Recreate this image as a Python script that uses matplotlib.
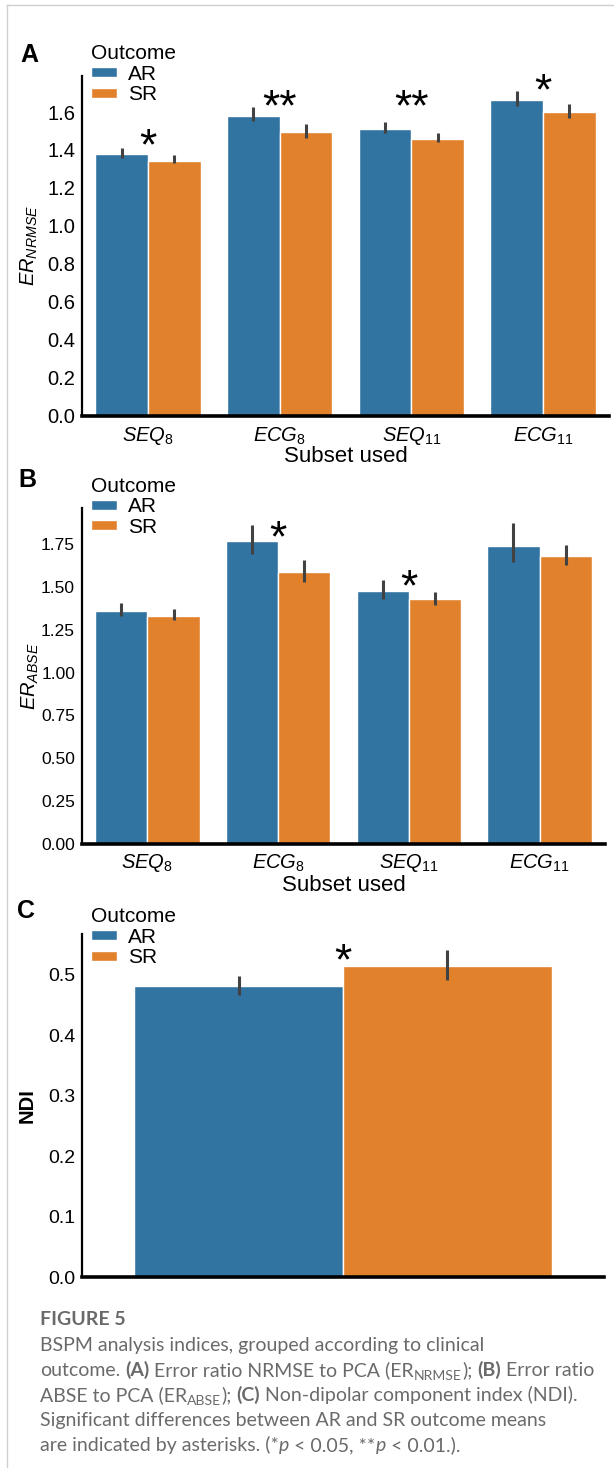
import matplotlib
matplotlib.use('Agg')
import matplotlib.pyplot as plt
import matplotlib.transforms as mtransforms
from matplotlib.lines import Line2D
import numpy as np

plt.rcParams['font.family'] = ['Liberation Sans', 'DejaVu Sans']
plt.rcParams['mathtext.fontset'] = 'custom'
plt.rcParams['mathtext.rm'] = 'Liberation Sans'
plt.rcParams['mathtext.it'] = 'Liberation Sans:italic'
plt.rcParams['mathtext.bf'] = 'Liberation Sans:bold'

# ---------------- data ----------------
subsets = ['$SEQ_{8}$', '$ECG_{8}$', '$SEQ_{11}$', '$ECG_{11}$']
outcomes = ['AR', 'SR']

# Panel A: ER_NRMSE
a_ar = [1.379, 1.580, 1.509, 1.661]
a_sr = [1.341, 1.493, 1.458, 1.601]
a_ar_lo = [1.360, 1.551, 1.490, 1.630]
a_ar_hi = [1.408, 1.629, 1.547, 1.710]
a_sr_lo = [1.329, 1.463, 1.442, 1.571]
a_sr_hi = [1.371, 1.538, 1.490, 1.645]
a_stars = ['*', '**', '**', '*']
a_star_y = [1.484, 1.687, 1.687, 1.771]

# Panel B: ER_ABSE
b_ar = [1.358, 1.770, 1.476, 1.737]
b_sr = [1.331, 1.586, 1.429, 1.679]
b_ar_lo = [1.331, 1.692, 1.427, 1.644]
b_ar_hi = [1.406, 1.863, 1.538, 1.872]
b_sr_lo = [1.306, 1.528, 1.395, 1.629]
b_sr_hi = [1.373, 1.658, 1.472, 1.743]
b_stars = ['', '*', '*', '']
b_star_y = [0, 1.855, 1.565, 0]

# Panel C: NDI
c_vals = [0.481, 0.514]
c_lo = [0.466, 0.491]
c_hi = [0.497, 0.540]
c_star = '*'
c_star_y = 0.542

a_yticks = [0.0, 0.2, 0.4, 0.6, 0.8, 1.0, 1.2, 1.4, 1.6]
b_yticks = [0.0, 0.25, 0.5, 0.75, 1.0, 1.25, 1.5, 1.75]
c_yticks = [0.0, 0.1, 0.2, 0.3, 0.4, 0.5]

# ---------------- style ----------------
BLUE = '#3274a1'
ORANGE = '#e1812c'
ERRC = '#424242'

W, H = 614, 1468
fig = plt.figure(figsize=(W / 100, H / 100), dpi=100)


def px_axes(left, top, right, bottom):
    return fig.add_axes([left / W, 1 - bottom / H, (right - left) / W, (bottom - top) / H])


def style_axes(ax, tick_fs):
    for s in ['top', 'right']:
        ax.spines[s].set_visible(False)
    ax.spines['left'].set_linewidth(1.6)
    ax.spines['bottom'].set_linewidth(2.6)
    ax.spines['left'].set_color('black')
    ax.spines['bottom'].set_color('black')
    ax.tick_params(axis='both', length=0, labelsize=tick_fs)
    ax.tick_params(axis='y', pad=5)
    ax.tick_params(axis='x', pad=7)


def stars(ax, xs, ys, labels, fs=32):
    tr = mtransforms.offset_copy(ax.transData, fig=fig, y=-0.56 * fs, units='points')
    for x, y, s in zip(xs, ys, labels):
        if s:
            ax.text(x, y, s, transform=tr, ha='center', va='baseline', fontsize=fs,
                    color='black', clip_on=False)


LEG_FS = 15
LEG_BP = 0.38


def legend(ax, top_px):
    pad = LEG_BP * LEG_FS * 100 / 72
    ax.legend(title='Outcome', loc='upper left',
              bbox_to_anchor=((90.5 - pad) / W, 1 - (top_px - pad) / H),
              bbox_transform=fig.transFigure,
              frameon=False, borderpad=LEG_BP, borderaxespad=0, fontsize=LEG_FS,
              title_fontsize=LEG_FS, alignment='left', handlelength=1.25,
              handleheight=0.34, handletextpad=0.55, labelspacing=0.08)


def grouped(ax, ar, sr, ar_lo, ar_hi, sr_lo, sr_hi):
    x = np.arange(len(ar))
    ax.bar(x - 0.2, ar, 0.4, color=BLUE, edgecolor='white', linewidth=1, label=outcomes[0])
    ax.bar(x + 0.2, sr, 0.4, color=ORANGE, edgecolor='white', linewidth=1, label=outcomes[1])
    ax.vlines(x - 0.2, ar_lo, ar_hi, color=ERRC, lw=2.2, zorder=3)
    ax.vlines(x + 0.2, sr_lo, sr_hi, color=ERRC, lw=2.2, zorder=3)
    return x


# ---------------- Panel A ----------------
axA = px_axes(82, 76, 609, 415.5)
x = grouped(axA, a_ar, a_sr, a_ar_lo, a_ar_hi, a_sr_lo, a_sr_hi)
axA.set_xlim(-0.5, len(subsets) - 0.5)
axA.set_ylim(0, 1.79)
axA.set_yticks(a_yticks, [f'{v:.1f}' for v in a_yticks])
axA.set_xticks(x, subsets)
style_axes(axA, 14.5)
axA.set_ylabel('$ER_{NRMSE}$', fontsize=14.5)
axA.yaxis.label.set_va('center')
axA.yaxis.set_label_coords(-0.1006, 0.5)
axA.set_xlabel('Subset used', fontsize=16)
axA.xaxis.label.set_va('center')
axA.xaxis.set_label_coords(0.5, -0.122)
stars(axA, x, a_star_y, a_stars)
legend(axA, 44)

# ---------------- Panel B ----------------
axB = px_axes(82, 508, 605, 844)
x = grouped(axB, b_ar, b_sr, b_ar_lo, b_ar_hi, b_sr_lo, b_sr_hi)
axB.set_xlim(-0.5, len(subsets) - 0.5)
axB.set_ylim(0, 1.96)
axB.set_yticks(b_yticks, [f'{v:.2f}' for v in b_yticks])
axB.set_xticks(x, subsets)
style_axes(axB, 12.5)
axB.tick_params(axis='x', labelsize=14.5, pad=6)
axB.set_ylabel('$ER_{ABSE}$', fontsize=14.5)
axB.yaxis.label.set_va('center')
axB.yaxis.set_label_coords(-0.0996, 0.5)
axB.set_xlabel('Subset used', fontsize=16)
axB.xaxis.label.set_va('center')
axB.xaxis.set_label_coords(0.5, -0.124)
stars(axB, x, b_star_y, b_stars)
legend(axB, 476.5)

# ---------------- Panel C ----------------
axC = px_axes(82, 934, 604, 1277)
axC.bar([-0.2], [c_vals[0]], 0.4, color=BLUE, edgecolor='white', linewidth=1, label=outcomes[0])
axC.bar([0.2], [c_vals[1]], 0.4, color=ORANGE, edgecolor='white', linewidth=1, label=outcomes[1])
axC.vlines([-0.2, 0.2], c_lo, c_hi, color=ERRC, lw=2.2, zorder=3)
axC.set_xlim(-0.5, 0.5)
axC.set_ylim(0, 0.567)
axC.set_yticks(c_yticks, [f'{v:.1f}' for v in c_yticks])
axC.set_xticks([])
style_axes(axC, 14)
axC.set_ylabel('NDI', fontsize=14.5, fontweight='bold')
axC.yaxis.label.set_va('center')
axC.yaxis.set_label_coords(-0.105, 0.5)
stars(axC, [0.0], [c_star_y], [c_star])
legend(axC, 907)

# ---------------- panel letters ----------------
for lab, lx, ly in [('A', 20, 62), ('B', 18, 487), ('C', 17, 918)]:
    fig.text(lx / W, 1 - ly / H, lab, fontsize=18, fontweight='bold', ha='left', va='baseline')

# ---------------- page border ----------------
fig.add_artist(Line2D([7 / W, 7 / W], [0, 1 - 5 / H], transform=fig.transFigure, color='#cfcfcf', lw=1))
fig.add_artist(Line2D([7 / W, 1], [1 - 5 / H, 1 - 5 / H], transform=fig.transFigure, color='#cfcfcf', lw=1))

# ---------------- caption ----------------
CAPF = ['Lato', 'DejaVu Sans']
CAPC = '#6a6a6a'
CFS = 14.0
renderer = fig.canvas.get_renderer()


def text_w(s, **kw):
    t = fig.text(0, 0, s, **kw)
    w = t.get_window_extent(renderer=renderer).width
    t.remove()
    return w


def rich_line(x_px, base_px, segs):
    x = x_px
    for s, opt in segs:
        size = CFS * opt.get('scale', 1.0)
        kw = dict(fontsize=size, fontweight=opt.get('weight', 'normal'),
                  fontstyle=opt.get('style', 'normal'), color=CAPC, family=CAPF)
        lead = len(s) - len(s.lstrip(' '))
        trail = len(s) - len(s.rstrip(' '))
        core = s.strip(' ')
        sp = text_w('a a', **kw) - text_w('aa', **kw)
        x += lead * sp
        if core:
            t = fig.text(x / W, 1 - (base_px + opt.get('dy', 0)) / H, core, ha='left',
                         va='baseline', **kw)
            x += t.get_window_extent(renderer=renderer).width
        x += trail * sp


fig.text(40 / W, 1 - 1325 / H, 'FIGURE 5', fontsize=CFS, fontweight='bold', color=CAPC,
         family=CAPF, ha='left', va='baseline')
B_ = {'weight': 'bold'}
N_ = {}
S_ = {'scale': 0.72, 'dy': 4}
I_ = {'style': 'italic'}
lines = [
    [('BSPM analysis indices, grouped according to clinical', N_)],
    [('outcome. ', N_), ('(A)', B_), (' Error ratio NRMSE to PCA (ER', N_), ('NRMSE', S_),
     ('); ', N_), ('(B)', B_), (' Error ratio', N_)],
    [('ABSE to PCA (ER', N_), ('ABSE', S_), ('); ', N_), ('(C)', B_),
     (' Non-dipolar component index (NDI).', N_)],
    [('Significant differences between AR and SR outcome means', N_)],
    [('are indicated by asterisks. (*', N_), ('p', I_), (' < 0.05, **', N_), ('p', I_),
     (' < 0.01.).', N_)],
]
for i, segs in enumerate(lines):
    rich_line(40, 1351 + 25 * i, segs)

fig.savefig('out.png', dpi=100)
